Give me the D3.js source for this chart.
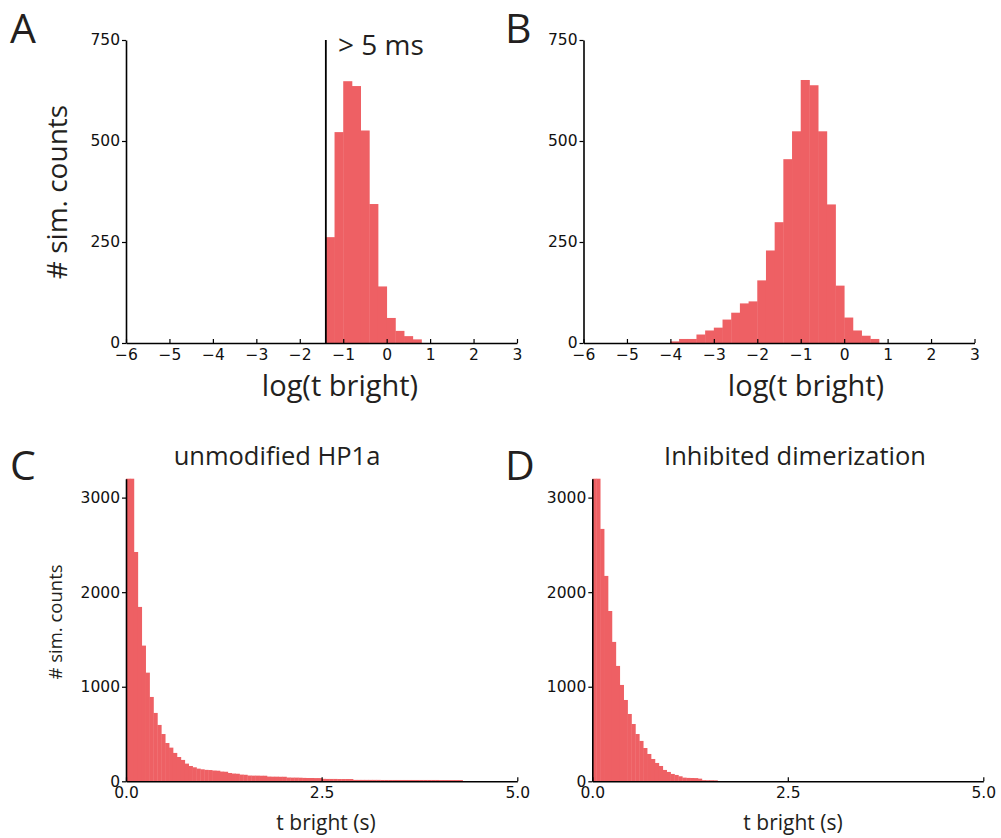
<!DOCTYPE html>
<html>
<head>
<meta charset="utf-8">
<script src="https://cdn.jsdelivr.net/npm/d3@7"></script>
<style>
  body { margin: 0; background: #fff; }
  .tick text { font-family: "DejaVu Sans", sans-serif; font-size: 15.5px; fill: #111; }
  .lbl { font-family: "Open Sans", "Noto Sans", sans-serif; fill: #231f20; }
</style>
</head>
<body>
<div id="chart"></div>
<script>
// log-binned histograms (panels A, B): bins of 0.2 in log(t bright)
var logBinWidth = 0.2;
var cutoffLog = -1.4;   // "> 5 ms" threshold
var aBinStart = -1.4;
var aCounts = [262, 522, 648, 636, 526, 344, 140, 62, 30, 17, 9];
var bBinStart = -4.0;
var bCounts = [4, 10, 10, 21, 31, 38, 58, 75, 98, 103, 155, 229, 299, 455, 524,
               651, 638, 524, 343, 142, 63, 31, 18, 10];
var logTicks = [-6, -5, -4, -3, -2, -1, 0, 1, 2, 3];
var logCountTicks = [0, 250, 500, 750];

// linear histograms (panels C, D): bins of 0.05 s
var linBinWidth = 0.05;
var cCounts = [3900, 3300, 2425, 1844, 1435, 1149, 892, 723, 596, 500,
               405, 356, 300, 257, 226, 187, 162, 148, 134, 127,
               121, 119, 114, 112, 103, 101, 88, 82, 80, 71,
               69, 61, 60, 60, 59, 59, 50, 49, 49, 48,
               48, 40, 39, 39, 38, 36, 35, 35, 34, 34,
               26, 25, 25, 25, 24, 24, 24, 24, 15, 15,
               15, 15, 15, 15, 15, 14, 14, 14, 14, 14,
               14, 14, 14, 14, 14, 14, 14, 14, 14, 14,
               13, 13, 13, 13, 13, 13];
var dCounts = [3800, 3350, 2669, 2172, 1801, 1474, 1220, 1019, 860, 712,
               606, 500, 427, 352, 289, 236, 194, 162, 120, 99,
               78, 67, 53, 39, 36, 35, 34, 28, 12, 11, 11, 10];
var linTicks = [0, 2.5, 5];
var linCountTicks = [0, 1000, 2000, 3000];

var barColor = '#ee6064';

var svg = d3.select('#chart').append('svg')
  .attr('width', 1001)
  .attr('height', 838);

function histogram(opts) {
  var x = d3.scaleLinear().domain(opts.xDomain).range([opts.x0, opts.x1]);
  var y = d3.scaleLinear().domain(opts.yDomain).range([opts.y0, opts.y1]).clamp(true);
  var g = svg.append('g');

  var bins = opts.counts.map(function (c, i) {
    return { lo: opts.start + i * opts.width, hi: opts.start + (i + 1) * opts.width, n: c };
  });

  g.selectAll('rect.bar')
    .data(bins)
    .enter().append('rect')
    .attr('class', 'bar')
    .attr('x', function (d) { return x(d.lo); })
    .attr('width', function (d) { return x(d.hi) - x(d.lo) + 0.4; })
    .attr('y', function (d) { return y(d.n); })
    .attr('height', function (d) { return y(0) - y(d.n); })
    .attr('fill', barColor);

  var xAxis = d3.axisBottom(x)
    .tickValues(opts.xTicks)
    .tickFormat(opts.xFormat)
    .tickSize(-4)
    .tickSizeOuter(0)
    .tickPadding(6);
  var yAxis = d3.axisLeft(y)
    .tickValues(opts.yTicks)
    .tickFormat(d3.format('d'))
    .tickSize(4)
    .tickSizeOuter(0)
    .tickPadding(2);

  var gx = g.append('g').attr('transform', 'translate(0,' + opts.y0 + ')').call(xAxis);
  var gy = g.append('g').attr('transform', 'translate(' + opts.x0 + ',0)').call(yAxis);
  [gx, gy].forEach(function (a) {
    a.select('.domain').attr('stroke', '#000').attr('stroke-width', 1.6);
    a.selectAll('.tick line').attr('stroke', '#000').attr('stroke-width', 1.2);
  });
  return { x: x, y: y, g: g };
}

// ---- panel A
var pA = histogram({
  counts: aCounts, start: aBinStart, width: logBinWidth,
  xDomain: [-6, 3], yDomain: [0, 750],
  x0: 126, x1: 517, y0: 343, y1: 40,
  xTicks: logTicks, yTicks: logCountTicks, xFormat: d3.format('d')
});
pA.g.append('line')
  .attr('x1', pA.x(cutoffLog)).attr('x2', pA.x(cutoffLog))
  .attr('y1', pA.y(750)).attr('y2', pA.y(0))
  .attr('stroke', '#000').attr('stroke-width', 1.8);
pA.g.append('text').attr('class', 'lbl')
  .attr('x', 338).attr('y', 55)
  .style('font-size', '28px')
  .text('> 5 ms');

// ---- panel B
histogram({
  counts: bCounts, start: bBinStart, width: logBinWidth,
  xDomain: [-6, 3], yDomain: [0, 750],
  x0: 583.5, x1: 974.5, y0: 343, y1: 40,
  xTicks: logTicks, yTicks: logCountTicks, xFormat: d3.format('d')
});

// ---- panel C
histogram({
  counts: cCounts, start: 0, width: linBinWidth,
  xDomain: [0, 5], yDomain: [0, 3200],
  x0: 126, x1: 517.3, y0: 781.3, y1: 478.7,
  xTicks: linTicks, yTicks: linCountTicks, xFormat: d3.format('.1f')
});

// ---- panel D
histogram({
  counts: dCounts, start: 0, width: linBinWidth,
  xDomain: [0, 5], yDomain: [0, 3200],
  x0: 592.3, x1: 983.3, y0: 781.3, y1: 478.7,
  xTicks: linTicks, yTicks: linCountTicks, xFormat: d3.format('.1f')
});

// ---- labels
function label(txt, x, y, size, rotate, anchor) {
  var t = svg.append('text').attr('class', 'lbl')
    .style('font-size', size + 'px')
    .attr('text-anchor', anchor || 'middle')
    .text(txt);
  if (rotate) t.attr('transform', 'translate(' + x + ',' + y + ') rotate(-90)');
  else t.attr('x', x).attr('y', y);
  return t;
}

label('A', 10, 43, 41, false, 'start');
label('B', 505, 43, 41, false, 'start');
label('C', 10, 480, 41, false, 'start');
label('D', 505, 480, 41, false, 'start');

label('# sim. counts', 67, 192, 28, true);
label('log(t bright)', 340, 396, 29);
label('log(t bright)', 806, 396, 29);

label('unmodified HP1a', 277, 465, 25.5);
label('Inhibited dimerization', 795, 465, 25.5);
label('# sim. counts', 62, 622, 18.5, true);
label('t bright (s)', 326, 830, 21);
label('t bright (s)', 793, 830, 21);
</script>
</body>
</html>
